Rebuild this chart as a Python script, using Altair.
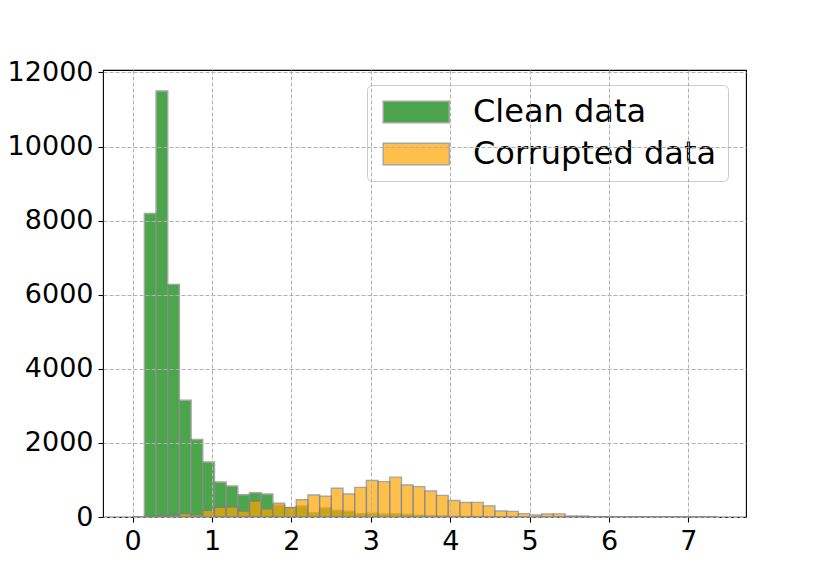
import altair as alt
import numpy as np
import pandas as pd

# Histogram bins (shared by both series)
BIN_MIN = 0.0
BIN_MAX = 7.36
N_BINS = 50

series_names = ["Clean data", "Corrupted data"]
series_colors = ["green", "orange"]

clean_counts = [0, 8190, 11500, 6280, 3150, 2090, 1485, 945, 835, 600,
                655, 620, 325, 250, 297, 118, 245, 185, 158, 90,
                100, 85, 90, 72, 50, 40, 30, 22, 15, 12,
                8, 6, 4, 3, 2, 1, 1, 0, 0, 0,
                0, 0, 0, 0, 0, 0, 0, 0, 0, 0]

corrupted_counts = [0, 10, 40, 45, 90, 60, 180, 260, 270, 160,
                    430, 220, 370, 255, 465, 595, 560, 775, 620, 800,
                    985, 955, 1075, 865, 820, 700, 585, 445, 390, 395,
                    298, 162, 153, 90, 54, 81, 85, 27, 25, 12,
                    8, 6, 5, 4, 3, 3, 2, 2, 1, 1]

x_ticks = [0, 1, 2, 3, 4, 5, 6, 7]
y_ticks = [0, 2000, 4000, 6000, 8000, 10000, 12000]

edges = np.linspace(BIN_MIN, BIN_MAX, N_BINS + 1)
rows = []
for name, counts in zip(series_names, [clean_counts, corrupted_counts]):
    for i, c in enumerate(counts):
        rows.append({"series": name, "x0": float(edges[i]), "x1": float(edges[i + 1]), "count": c})
df = pd.DataFrame(rows)

FONT = "DejaVu Sans"

axis_common = dict(
    grid=True, gridColor="#b0b0b0", gridDash=[4, 2], gridWidth=1,
    domain=False, ticks=True, tickColor="black", tickSize=5, tickWidth=1.1,
    labelFont=FONT, labelFontSize=27, labelColor="black", title=None, zindex=1,
)

chart = alt.Chart(df).mark_bar(
    opacity=0.7, stroke="grey", strokeWidth=1.4
).encode(
    x=alt.X("x0:Q", scale=alt.Scale(domain=[-0.374, 7.726], nice=False, zero=False),
            axis=alt.Axis(values=x_ticks, format="d", labelPadding=6, **axis_common)),
    x2="x1:Q",
    y=alt.Y("count:Q", stack=None, scale=alt.Scale(domain=[0, 12065], nice=False),
            axis=alt.Axis(values=y_ticks, format="d", labelPadding=5, **axis_common)),
    y2=alt.datum(0),
    color=alt.Color("series:N", scale=alt.Scale(domain=series_names, range=series_colors),
                    legend=alt.Legend(
                        orient="none", legendX=264, legendY=15, title=None,
                        labelFont=FONT, labelFontSize=32, labelColor="black", labelLimit=0,
                        symbolType="M-1,-1H5.11V1H-1Z", symbolSize=467,
                        symbolOpacity=0.7, symbolStrokeColor="grey", symbolStrokeWidth=1.4,
                        labelOffset=63, padding=11, rowPadding=10,
                        fillColor="rgba(255,255,255,0.8)", strokeColor="#cccccc",
                        cornerRadius=5, offset=0,
                    )),
).properties(
    width=643, height=447,
    autosize=alt.AutoSizeParams(type="none"),
    padding={"left": 95, "top": 62, "right": 76, "bottom": 56},
).configure_view(
    stroke="black", strokeWidth=1.1
)

chart.save("out.html", embed_options={"renderer": "svg", "actions": False})
